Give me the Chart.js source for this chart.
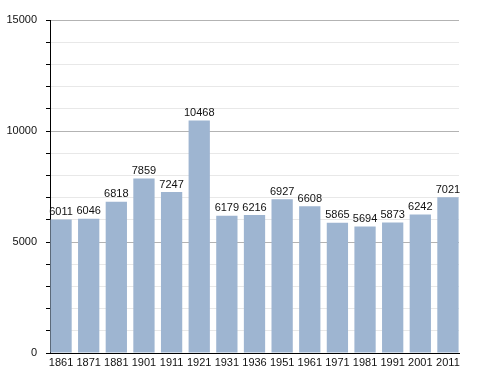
<!DOCTYPE html>
<html>
<head>
<meta charset="utf-8">
<script src="https://cdn.jsdelivr.net/npm/chart.js@4/dist/chart.umd.min.js"></script>
<style>
  html, body { margin: 0; padding: 0; background: #fff; }
  #wrap { width: 488px; height: 373px; }
</style>
</head>
<body>
<div id="wrap"><canvas id="popChart" width="488" height="373"></canvas></div>
<script>
const years = ["1861", "1871", "1881", "1901", "1911", "1921", "1931", "1936",
  "1951", "1961", "1971", "1981", "1991", "2001", "2011"];
const population = [6011, 6046, 6818, 7859, 7247, 10468, 6179, 6216,
  6927, 6608, 5865, 5694, 5873, 6242, 7021];
const yTicks = [0, 5000, 10000, 15000];

const FONT = "'Liberation Sans', Arial, sans-serif";

// value labels over each bar
const barLabels = {
  id: "barLabels",
  afterDatasetsDraw(chart) {
    const ctx = chart.ctx;
    const meta = chart.getDatasetMeta(0);
    ctx.save();
    ctx.font = "11px " + FONT;
    ctx.fillStyle = "#111";
    ctx.textAlign = "center";
    ctx.textBaseline = "bottom";
    meta.data.forEach((bar, i) => {
      ctx.fillText(String(population[i]), bar.x, bar.y - 2);
    });
    ctx.restore();
  }
};

new Chart(document.getElementById("popChart"), {
  type: "bar",
  data: {
    datasets: [{
      data: population.map((v, i) => ({ x: i, y: v })),
      backgroundColor: "#9eb5d1",
      borderWidth: 0,
      barPercentage: 0.77,
      categoryPercentage: 1.0
    }]
  },
  options: {
    responsive: false,
    animation: false,
    layout: { padding: { top: 20, right: 29, bottom: 0, left: 0 } },
    plugins: { legend: { display: false }, tooltip: { enabled: false } },
    scales: {
      x: {
        type: "linear",
        min: -0.4,
        max: years.length - 0.6,
        offset: false,
        grid: { display: false, drawTicks: false },
        border: { color: "#000", width: 1 },
        ticks: {
          stepSize: 1,
          includeBounds: false,
          autoSkip: false,
          maxRotation: 0,
          color: "#111",
          font: { family: FONT, size: 11 },
          padding: 3,
          callback: (v) => (Number.isInteger(v) && years[v] ? years[v] : "")
        },
        afterFit(scale) { scale.height = 20; }
      },
      y: {
        min: 0,
        max: 15000,
        border: { color: "#000", width: 1 },
        grid: {
          color: (c) => (c.tick && c.tick.value % 5000 === 0 ? "#b3b3b3" : "#e8e8e8"),
          tickColor: "#000",
          tickLength: 4
        },
        ticks: {
          stepSize: 1000,
          color: "#111",
          font: { family: FONT, size: 11 },
          padding: 9,
          callback: (v) => (yTicks.includes(v) ? String(v) : "")
        },
        afterFit(scale) { scale.width = 50; }
      }
    }
  },
  plugins: [barLabels]
});
</script>
</body>
</html>
